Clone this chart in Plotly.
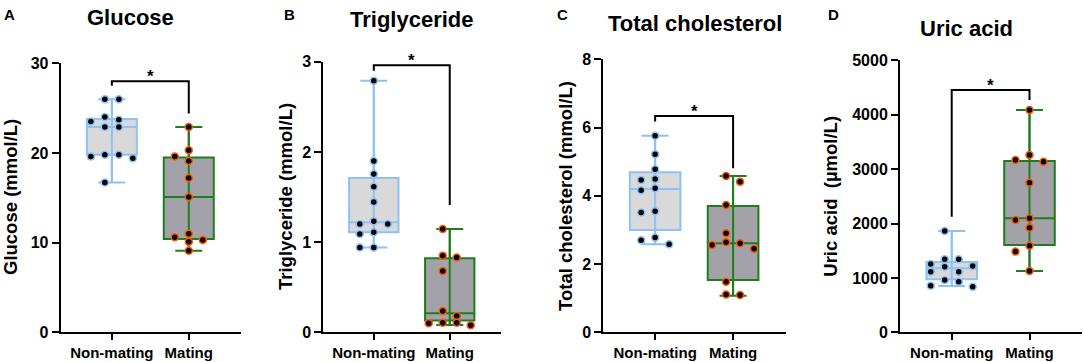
import plotly.graph_objects as go

# ---------------- data ----------------
groups = ["Non-mating", "Mating"]
panel_letters = ["A", "B", "C", "D"]
panel_titles = ["Glucose", "Triglyceride", "Total cholesterol", "Uric acid"]
y_titles = ["Glucose (mmol/L)", "Triglyceride (mmol/L)",
            "Total cholesterol (mmol/L)", "Uric acid \u00a0(\u00b5mol/L)"]
y_max = [30, 3, 8, 5000]
y_dtick = [10, 1, 2, 1000]

glucose_nonmating = [26.0, 26.0, 24.0, 23.7, 23.5, 22.9, 22.9, 19.8, 19.8, 19.6, 19.4, 16.7]
glucose_mating = [22.9, 20.3, 19.6, 19.1, 17.2, 15.1, 11.0, 10.6, 10.3, 10.1, 9.1]
trig_nonmating = [2.79, 1.90, 1.755, 1.614, 1.444, 1.23, 1.20, 1.20, 1.11, 1.09, 0.94, 0.94]
trig_mating = [1.145, 0.85, 0.83, 0.68, 0.236, 0.18, 0.106, 0.106, 0.10, 0.078]
chol_nonmating = [5.76, 5.22, 4.78, 4.49, 4.46, 4.22, 4.16, 3.55, 3.51, 2.78, 2.70, 2.58]
chol_mating = [4.58, 4.41, 3.73, 2.90, 2.64, 2.61, 2.56, 2.45, 1.48, 1.11, 1.09]
uric_nonmating = [1862, 1342, 1342, 1255, 1219, 1206, 1114, 1114, 961, 930, 857, 838]
uric_mating = [4087, 3260, 3168, 3137, 2751, 2096, 2065, 1924, 1593, 1483, 1127]

# box statistics: [min, q1, median, q3, max]
glucose_box = [[16.7, 19.8, 22.9, 23.8, 26.0], [9.1, 10.4, 15.1, 19.5, 22.9]]
trig_box = [[0.94, 1.11, 1.22, 1.71, 2.79], [0.08, 0.13, 0.21, 0.82, 1.145]]
chol_box = [[2.58, 3.00, 4.20, 4.69, 5.76], [1.07, 1.53, 2.61, 3.70, 4.58]]
uric_box = [[850, 974, 1176, 1290, 1862], [1127, 1605, 2096, 3150, 4087]]

# significance brackets: left end, bar, right end
bracket_left = [27.5, 2.90, 6.18, 2125]
bracket_bar = [28.0, 2.96, 6.34, 4454]
bracket_right = [24.4, 1.41, 4.81, 4270]
sig_label = ["*", "*", "*", "*"]

points = [(glucose_nonmating, glucose_mating), (trig_nonmating, trig_mating),
          (chol_nonmating, chol_mating), (uric_nonmating, uric_mating)]
boxes = [glucose_box, trig_box, chol_box, uric_box]

# ---------------- style / layout ----------------
W, H = 1084, 362
FONT = "Liberation Sans, Arial, Helvetica, sans-serif"
panel_left = [60.7, 323.3, 603.3, 900.0]
panel_right = [240.7, 501.0, 785.7, 1082.0]
panel_top = [63.3, 61.7, 59.3, 60.3]
panel_bottom = 332.3
x_range = [-0.665, 1.675]
letter_x = [9.5, 289, 562, 833]
title_x = [130.7, 412, 695.3, 966.7]
title_y = [17, 19, 23.5, 28]
ytitle_x = [10, 285, 566, 830.7]
ytitle_y = [197, 197, 196, 196]

line_colors = ["#8DC2F5", "#1E7D1E"]
fill_colors = ["#D9D9D9", "#A3A2A8"]
outline_colors = ["#8DC2F5", "#FF5A00"]
BOX_W = 0.65
GRID_PX = 14.0
ROW_PX = 7.0


def swarm_offsets(values, ppu_y, d_px, thr_px):
    order = sorted(range(len(values)), key=lambda i: -values[i])
    rows = []
    for i in order:
        if rows and (values[rows[-1][0]] - values[i]) * ppu_y < thr_px:
            rows[-1].append(i)
        else:
            rows.append([i])
    m = max(len(r) for r in rows)
    if m % 2 == 1:
        cands = [0.0] + [s * k for k in range(1, m + 1) for s in (-1, 1)]
    else:
        cands = [s * (k - 0.5) for k in range(1, m + 1) for s in (-1, 1)]
    offs = [0.0] * len(values)
    for r in rows:
        for j, i in enumerate(r):
            offs[i] = cands[j] * d_px
    return offs


fig = go.Figure()
annotations = []
layout_axes = {}

for p in range(4):
    ax = "" if p == 0 else str(p + 1)
    xref, yref = "x" + ax, "y" + ax
    ppu_y = (panel_bottom - panel_top[p]) / y_max[p]
    ppu_x = (panel_right[p] - panel_left[p]) / (x_range[1] - x_range[0])

    for g in range(2):
        mn, q1, med, q3, mx = boxes[p][g]
        # whisker caps
        fig.add_trace(go.Scatter(
            x=[g], y=[med], mode="markers", xaxis=xref, yaxis=yref,
            marker=dict(size=1, color="rgba(0,0,0,0)"),
            error_y=dict(type="data", symmetric=False, array=[mx - med],
                         arrayminus=[med - mn], color=line_colors[g],
                         thickness=2, width=13.5),
            hoverinfo="skip", showlegend=False))
        fig.add_trace(go.Box(
            x=[g], q1=[q1], median=[med], q3=[q3], lowerfence=[mn], upperfence=[mx],
            xaxis=xref, yaxis=yref, width=BOX_W, boxpoints=False,
            fillcolor=fill_colors[g], line=dict(color=line_colors[g], width=2),
            whiskerwidth=0, showlegend=False, hoverinfo="skip"))

    for g in range(2):
        vals = points[p][g]
        offs = swarm_offsets(vals, ppu_y, GRID_PX, ROW_PX)
        fig.add_trace(go.Scatter(
            x=[g + o / ppu_x for o in offs], y=vals, mode="markers",
            xaxis=xref, yaxis=yref, cliponaxis=False,
            marker=dict(size=7, color="black",
                        line=dict(color=outline_colors[g], width=1.5)),
            showlegend=False, hoverinfo="skip"))

    # significance bracket
    fig.add_trace(go.Scatter(
        x=[0, 0, 1, 1],
        y=[bracket_left[p], bracket_bar[p], bracket_bar[p], bracket_right[p]],
        mode="lines", xaxis=xref, yaxis=yref, cliponaxis=False,
        line=dict(color="black", width=2), showlegend=False, hoverinfo="skip"))
    annotations.append(dict(
        x=0.5, y=bracket_bar[p], xref=xref, yref=yref, text=sig_label[p],
        showarrow=False, yanchor="bottom", yshift=-7,
        font=dict(family=FONT, size=17, color="black", weight="bold")))

    xd = [panel_left[p] / W, panel_right[p] / W]
    yd = [(H - panel_bottom) / H, (H - panel_top[p]) / H]
    common = dict(showgrid=False, zeroline=False, showline=True, linewidth=2,
                  linecolor="black", ticks="outside", tickwidth=2, tickcolor="black",
                  automargin=False)
    layout_axes["xaxis" + ax] = dict(
        domain=xd, anchor=yref, range=x_range, tickmode="array",
        tickvals=[0, 1], ticktext=groups, ticklen=6,
        tickfont=dict(family=FONT, size=15, color="black", weight="bold"), **common)
    layout_axes["yaxis" + ax] = dict(
        domain=yd, anchor=xref, range=[0, y_max[p]], tickmode="linear",
        tick0=0, dtick=y_dtick[p], ticklen=7,
        tickfont=dict(family=FONT, size=16, color="black", weight="bold"), **common)

    annotations.append(dict(
        x=letter_x[p] / W, y=1 - 15 / H, xref="paper", yref="paper",
        text=panel_letters[p], showarrow=False, xanchor="center", yanchor="middle",
        font=dict(family=FONT, size=15, color="black", weight="bold")))
    annotations.append(dict(
        x=title_x[p] / W, y=1 - title_y[p] / H, xref="paper", yref="paper",
        text=panel_titles[p], showarrow=False, xanchor="center", yanchor="middle",
        font=dict(family=FONT, size=22, color="black", weight="bold")))
    annotations.append(dict(
        x=ytitle_x[p] / W, y=1 - ytitle_y[p] / H, xref="paper", yref="paper",
        text=y_titles[p], showarrow=False, textangle=-90,
        xanchor="center", yanchor="middle",
        font=dict(family=FONT, size=18.5, color="black", weight="bold")))

fig.update_layout(
    width=W, height=H, margin=dict(l=0, r=0, t=0, b=0),
    paper_bgcolor="white", plot_bgcolor="white",
    showlegend=False, annotations=annotations, **layout_axes)

fig.write_html("out.html",
               config={"displayModeBar": False, "staticPlot": True},
               post_script="document.body.style.margin='0px';"
                           "document.body.style.overflow='hidden';")
